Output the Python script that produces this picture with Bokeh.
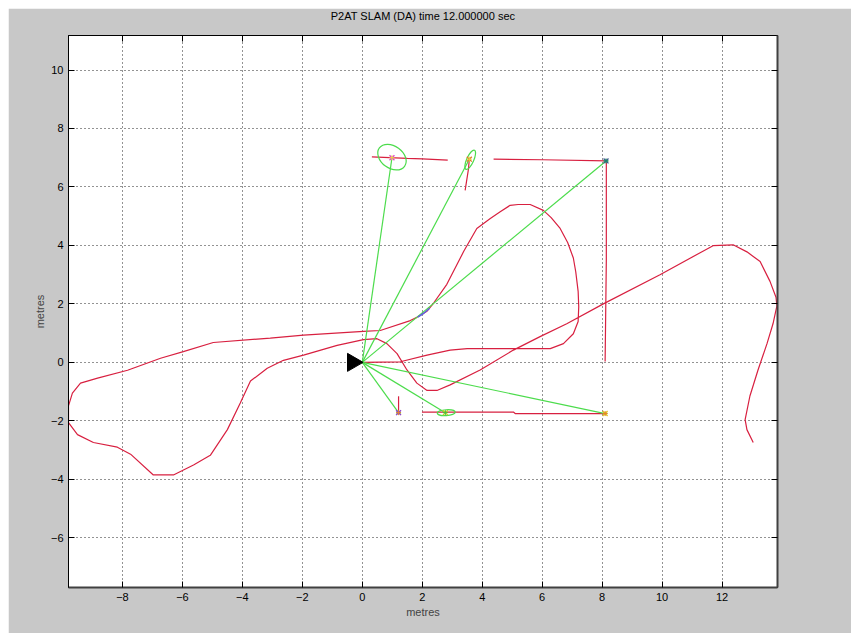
from math import pi
from bokeh.plotting import figure
from bokeh.models import Range1d, LinearAxis, FixedTicker, Title, Grid, CustomLabelingPolicy
from bokeh.embed import file_html
from bokeh.resources import INLINE

# ---- data -------------------------------------------------------------
path_x = [0.0, 1.27, 2.16, 2.93, 3.5, 5.04, 6.27, 6.71, 7.04, 7.2, 7.22, 7.2, 7.12, 7.04, 6.85, 6.6,
          6.3, 6.04, 5.6, 5.2, 4.93, 4.6, 4.27, 3.82, 3.38, 2.82, 2.38, 2.16, 1.82, 1.6, 0.6, 0.04,
          -1.96, -3.07, -4.97, -5.97, -6.73, -7.83, -8.83, -9.4, -9.67, -9.8, -9.8, -9.5, -8.97,
          -8.17, -7.73, -6.97, -6.3, -5.63, -5.07, -4.5, -4.07, -3.73, -3.17, -2.63, -1.96, -0.84,
          0.04, 0.49, 0.82, 1.16, 1.49, 1.82, 2.16, 2.49, 2.93, 3.93, 5.04, 5.93, 6.82, 8.04, 9.93,
          11.27, 11.7, 12.37, 12.83, 13.27, 13.6, 13.8, 13.83, 13.7, 13.5, 13.2, 12.93, 12.77,
          12.83, 13.04]
path_y = [0.0, 0.02, 0.25, 0.42, 0.47, 0.47, 0.47, 0.64, 0.98, 1.4, 1.9, 2.43, 3.1, 3.57, 4.1, 4.58,
          4.95, 5.2, 5.4, 5.4, 5.37, 5.15, 4.92, 4.58, 3.79, 2.67, 2.03, 1.75, 1.54, 1.43, 1.09, 1.06,
          0.93, 0.83, 0.68, 0.37, 0.14, -0.27, -0.54, -0.71, -1.05, -1.49, -2.06, -2.47, -2.74,
          -2.9, -3.14, -3.85, -3.85, -3.51, -3.18, -2.3, -1.39, -0.64, -0.2, 0.07, 0.25, 0.58,
          0.78, 0.81, 0.64, 0.3, -0.26, -0.71, -0.96, -0.96, -0.77, -0.26, 0.42, 0.88, 1.32, 2.0,
          3.0, 3.75, 3.99, 4.02, 3.78, 3.45, 2.77, 2.23, 1.93, 1.32, 0.64, -0.26, -1.15, -1.96,
          -2.3, -2.74]

# landmark estimate tracks
track_xs = [[0.32, 1.5, 2.0, 2.85],
            [3.43, 3.54, 3.57],
            [4.38, 6.0, 8.14, 8.14, 8.1],
            [1.21, 1.21],
            [1.99, 5.04, 5.1, 8.1]]
track_ys = [[7.03, 6.98, 6.96, 6.92],
            [5.88, 6.6, 6.95],
            [6.95, 6.93, 6.89, 3.5, 0.03],
            [-1.16, -1.7],
            [-1.7, -1.7, -1.75, -1.75]]

# landmarks (estimated positions)
lm_x = [0.99, 3.57, 8.13, 1.21, 2.77, 8.1]
lm_y = [7.0, 6.95, 6.89, -1.72, -1.72, -1.75]
lm_col_a = ["#e040d0", "#e07820", "#405890", "#9040c8", "#c8c820", "#e8c020"]
lm_col_b = ["#e8e040", "#e8d040", "#208070", "#e88030", "#40c040", "#e88030"]

# covariance ellipses
ell_x = [0.99, 3.6, 8.13, 1.21, 2.8, 8.1]
ell_y = [7.02, 6.93, 6.89, -1.72, -1.72, -1.75]
ell_w = [1.04, 0.70, 0.12, 0.12, 0.60, 0.12]
ell_h = [0.76, 0.24, 0.08, 0.08, 0.20, 0.08]
ell_a = [-0.63, 1.15, 0.0, 0.0, 0.05, 0.0]

# robot pose
robot_x = 0.0
robot_y = 0.0

# short estimated-path fragment (blue)
est_x = [1.85, 2.05, 2.25]
est_y = [1.55, 1.68, 1.85]

x_ticks = [-8, -6, -4, -2, 0, 2, 4, 6, 8, 10, 12]
y_ticks = [-6, -4, -2, 0, 2, 4, 6, 8, 10]

title_text = "P2AT SLAM (DA) time 12.000000 sec"
x_label = "metres"
y_label = "metres"

# ---- figure -----------------------------------------------------------
FONT = "Liberation Sans"
p = figure(width=843, height=625, output_backend="svg", toolbar_location=None,
           x_range=Range1d(-9.8, 13.85), y_range=Range1d(-7.7, 11.18),
           min_border_left=60, min_border_right=74, min_border_top=20, min_border_bottom=46,
           background_fill_color="white", border_fill_color="#c8c8c8",
           outline_line_color="black", outline_line_width=1, x_axis_type=None, y_axis_type=None)
p.margin = (8, 0, 0, 8)

p.title = Title(text=title_text, align="center", vertical_align="top", text_font=FONT,
                text_font_size="11px", text_font_style="normal", text_color="black",
                standoff=2, offset=0)

no_labels = CustomLabelingPolicy(code="return new indices.constructor(indices.size, 0)")

def style_axis(ax, labels=True):
    ax.major_tick_in = 6
    ax.major_tick_out = 0
    ax.minor_tick_in = 0
    ax.minor_tick_out = 0
    ax.axis_line_color = "black"
    ax.major_tick_line_color = "black"
    ax.major_label_text_font = FONT
    ax.major_label_text_font_size = "11px"
    ax.major_label_text_color = "black"
    ax.major_label_standoff = 5 if labels else 0
    ax.axis_label_text_font = FONT
    ax.axis_label_text_font_size = "11px"
    ax.axis_label_text_font_style = "normal"
    ax.axis_label_standoff = 2
    if not labels:
        ax.major_label_policy = no_labels

xb = LinearAxis(ticker=FixedTicker(ticks=x_ticks), axis_label=x_label)
yl = LinearAxis(ticker=FixedTicker(ticks=y_ticks), axis_label=y_label)
xt = LinearAxis(ticker=FixedTicker(ticks=x_ticks))
yr = LinearAxis(ticker=FixedTicker(ticks=y_ticks))
for ax, lab in ((xb, True), (yl, True), (xt, False), (yr, False)):
    style_axis(ax, lab)
xb.axis_line_color = "#404040"
xb.axis_line_width = 2
yr.axis_line_color = "#404040"
yr.axis_line_width = 2
p.add_layout(xb, "below")
p.add_layout(yl, "left")
p.add_layout(xt, "above")
p.add_layout(yr, "right")

for dim, ax in ((0, xb), (1, yl)):
    g = Grid(dimension=dim, ticker=ax.ticker, grid_line_color="black",
             grid_line_dash="1 3", grid_line_alpha=0.85)
    p.add_layout(g)

RED = "#d82040"
GREEN = "#4cdc4c"

# trajectory
p.line(path_x, path_y, line_color=RED, line_width=1.2)
# landmark tracks
p.multi_line(track_xs, track_ys, line_color=RED, line_width=1.2)
# observation lines
obs_xs = [[robot_x, x] for x in lm_x]
obs_ys = [[robot_y, y] for y in lm_y]
p.multi_line(obs_xs, obs_ys, line_color=GREEN, line_width=1.2)
# ellipses
p.ellipse(ell_x, ell_y, width=ell_w, height=ell_h, angle=ell_a,
          fill_alpha=0, line_color=GREEN, line_width=1.2)
# estimated path fragment
p.line(est_x, est_y, line_color="#6060e0", line_width=1.5)
# landmark markers
p.scatter(lm_x, lm_y, marker="x", size=7, line_color=lm_col_a, line_width=1.3)
p.scatter(lm_x, lm_y, marker="cross", size=5, line_color=lm_col_b, line_width=1.0)
# robot
p.scatter([robot_x - 0.32], [robot_y], marker="triangle", size=18, angle=-pi / 2,
          fill_color="black", line_color="black")

open("out.html", "w").write(file_html(p, INLINE))
